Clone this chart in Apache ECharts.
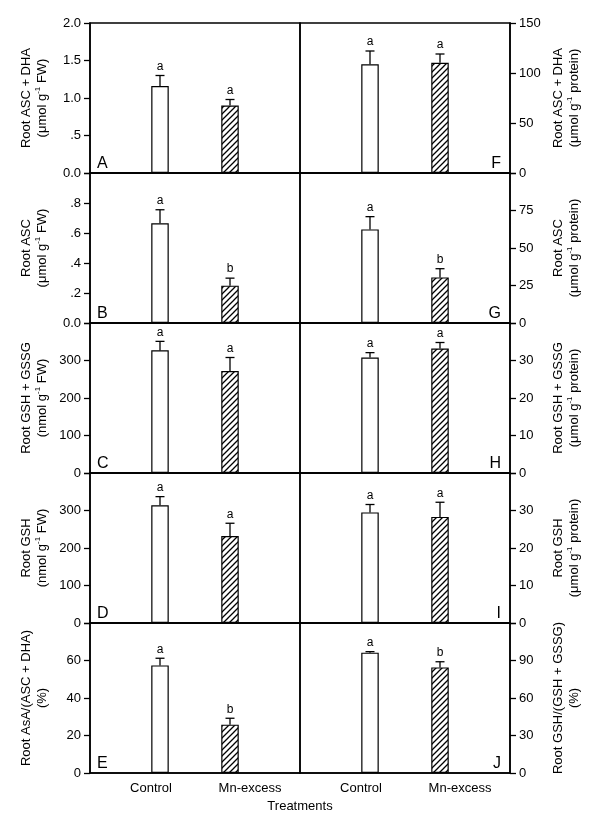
<!DOCTYPE html>
<html>
<head>
<meta charset="utf-8">
<script src="https://cdn.jsdelivr.net/npm/echarts@6/dist/echarts.min.js"></script>
<style>html,body{margin:0;padding:0;background:#fff;}#chart{width:600px;height:834px;}</style>
</head>
<body>
<div id="chart"></div>
<script>
// ---------------- data ----------------
const categories = ['Control', 'Mn-excess'];
const panelIds = ['A', 'B', 'C', 'D', 'E', 'F', 'G', 'H', 'I', 'J'];
const controlMean = [1.16, 0.665, 327, 314, 57.4, 108.7, 62.4, 30.8, 29.5, 96.3];
const controlErr  = [0.14, 0.09, 24, 23, 3.8, 13.3, 8.5, 1.3, 2.1, 0.8];
const mnMean      = [0.90, 0.249, 272, 232, 25.8, 110.3, 30.4, 33.2, 28.3, 84.5];
const mnErr       = [0.08, 0.05, 36, 34, 3.4, 8.7, 5.8, 1.6, 3.9, 4.5];
const controlSig  = ['a', 'a', 'a', 'a', 'a', 'a', 'a', 'a', 'a', 'a'];
const mnSig       = ['a', 'b', 'a', 'a', 'b', 'a', 'b', 'a', 'a', 'b'];
const yMax  = [2, 1, 400, 400, 80, 150, 100, 40, 40, 120];
const yStep = [0.5, 0.2, 100, 100, 20, 50, 25, 10, 10, 30];
const yTicksA = ['0.0', '.5', '1.0', '1.5', '2.0'];
const yTicksB = ['0.0', '.2', '.4', '.6', '.8', ''];
const yTicksC = ['0', '100', '200', '300', ''];
const yTicksD = ['0', '100', '200', '300', ''];
const yTicksE = ['0', '20', '40', '60', ''];
const yTicksF = ['0', '50', '100', '150'];
const yTicksG = ['0', '25', '50', '75', ''];
const yTicksH = ['0', '10', '20', '30', ''];
const yTicksI = ['0', '10', '20', '30', ''];
const yTicksJ = ['0', '30', '60', '90', ''];
const yTickLabels = [yTicksA, yTicksB, yTicksC, yTicksD, yTicksE, yTicksF, yTicksG, yTicksH, yTicksI, yTicksJ];
const yTitleLine1 = ['Root ASC + DHA', 'Root ASC', 'Root GSH + GSSG', 'Root GSH', 'Root AsA/(ASC + DHA)',
                     'Root ASC + DHA', 'Root ASC', 'Root GSH + GSSG', 'Root GSH', 'Root GSH/(GSH + GSSG)'];
const yTitleLine2 = [['(\u03bcmol g', '-1', ' FW)'], ['(\u03bcmol g', '-1', ' FW)'], ['(nmol g', '-1', ' FW)'],
                     ['(nmol g', '-1', ' FW)'], ['(%)', '', ''],
                     ['(\u03bcmol g', '-1', ' protein)'], ['(\u03bcmol g', '-1', ' protein)'], ['(\u03bcmol g', '-1', ' protein)'],
                     ['(\u03bcmol g', '-1', ' protein)'], ['(%)', '', '']];
const xAxisTitle = 'Treatments';

// ---------------- layout ----------------
const FONT = '"Liberation Sans", Arial, sans-serif';
const colLeft = [90, 300];
const colW = 210;
const top0 = 23;
const panelH = 150;

function makeHatch() {
  const s = 6;
  const c = document.createElement('canvas');
  c.width = s; c.height = s;
  const g = c.getContext('2d');
  g.fillStyle = '#fff'; g.fillRect(0, 0, s, s);
  g.strokeStyle = '#000'; g.lineWidth = 1.3;
  g.beginPath();
  g.moveTo(-1, s + 1); g.lineTo(s + 1, -1);
  g.moveTo(-s / 2 - 1, s / 2 + 1); g.lineTo(s / 2 + 1, -s / 2 - 1);
  g.moveTo(s / 2 - 1, s * 1.5 + 1); g.lineTo(s * 1.5 + 1, s / 2 - 1);
  g.stroke();
  return c;
}
const hatch = { image: makeHatch(), repeat: 'repeat' };

const xData = [''].concat(categories, ['']);
const grids = [], xAxes = [], yAxes = [], series = [], graphics = [];

for (let p = 0; p < 10; p++) {
  const col = p < 5 ? 0 : 1;
  const row = p % 5;
  const gTop = top0 + row * panelH;
  grids.push({ left: colLeft[col], width: colW, top: gTop, height: panelH,
    show: true, borderColor: '#000', borderWidth: 1.5, backgroundColor: 'transparent' });
  xAxes.push({
    type: 'category', gridIndex: p, data: xData, boundaryGap: false,
    axisLine: { show: true, lineStyle: { color: '#000', width: 1.5 } },
    axisTick: { show: false },
    axisLabel: {
      show: row === 4, interval: 0, color: '#000', fontSize: 13, fontFamily: FONT, margin: 9,
      formatter: v => v === categories[0] ? '{c|' + v + '}' : (v === categories[1] ? '{m|' + v + '}' : ''),
      rich: {
        c: { fontSize: 13, fontFamily: FONT, color: '#000', padding: [0, 18, 0, 0] },
        m: { fontSize: 13, fontFamily: FONT, color: '#000', padding: [0, 0, 0, 40] }
      }
    },
    splitLine: { show: false }
  });
  const l2 = yTitleLine2[p];
  const name = '{n|' + yTitleLine1[p] + '}\n{n|' + l2[0] + '}' + (l2[1] ? '{s|' + l2[1] + '}{n|' + l2[2] + '}' : '');
  const labels = yTickLabels[p];
  yAxes.push({
    type: 'value', gridIndex: p, position: col === 0 ? 'left' : 'right',
    min: 0, max: yMax[p], interval: yStep[p],
    axisLine: { show: true, lineStyle: { color: '#000', width: 1.5 } },
    axisTick: { show: true, inside: false, length: 6, lineStyle: { color: '#000', width: 1.3 } },
    axisLabel: {
      color: '#000', fontSize: 13, fontFamily: FONT, margin: 9,
      showMinLabel: true, showMaxLabel: true, hideOverlap: false,
      formatter: v => { const k = Math.round(v / yStep[p]); return labels[k] !== undefined ? labels[k] : ''; }
    },
    splitLine: { show: false },
    name: name, nameLocation: 'middle', nameRotate: 90, nameGap: 40,
    nameTextStyle: {
      rich: {
        n: { fontSize: 13, fontFamily: FONT, color: '#000', lineHeight: 16 },
        s: { fontSize: 8, fontFamily: FONT, color: '#000', lineHeight: 8, verticalAlign: 'top' }
      }
    }
  });
  series.push({
    type: 'bar', xAxisIndex: p, yAxisIndex: p, barWidth: 17.5, silent: true,
    itemStyle: { borderColor: '#000', borderWidth: 1.2 },
    data: ['-', { value: controlMean[p], itemStyle: { color: '#fff' } },
           { value: mnMean[p], itemStyle: { color: hatch } }, '-']
  });
  const errs = [controlErr[p], mnErr[p]];
  const sigs = [controlSig[p], mnSig[p]];
  series.push({
    type: 'custom', xAxisIndex: p, yAxisIndex: p, silent: true, clip: false, z: 5,
    data: [[1, controlMean[p]], [2, mnMean[p]]],
    encode: { x: 0, y: 1 },
    renderItem: (params, api) => {
      const i = params.dataIndex;
      const x = api.value(0), v = api.value(1);
      const b = api.coord([x, v]);
      const t = api.coord([x, v + errs[i]]);
      const st = { stroke: '#000', lineWidth: 1.3 };
      return { type: 'group', children: [
        { type: 'line', shape: { x1: b[0], y1: b[1], x2: t[0], y2: t[1] }, style: st },
        { type: 'line', shape: { x1: t[0] - 4.5, y1: t[1], x2: t[0] + 4.5, y2: t[1] }, style: st },
        { type: 'text', x: t[0], y: t[1] - 3, style: { text: sigs[i], fill: '#000', fontSize: 12, fontFamily: FONT,
          align: 'center', verticalAlign: 'bottom' } }
      ] };
    }
  });
  graphics.push({
    type: 'text',
    x: col === 0 ? colLeft[0] + 7 : colLeft[1] + colW - 9,
    y: gTop + panelH - 1,
    style: { text: panelIds[p], fill: '#000', fontSize: 16, fontFamily: FONT,
      textAlign: col === 0 ? 'left' : 'right', textVerticalAlign: 'bottom' }
  });
}
graphics.push({ type: 'text', x: 300, y: 806,
  style: { text: xAxisTitle, fill: '#000', fontSize: 13, fontFamily: FONT, textAlign: 'center', textVerticalAlign: 'middle' } });

const chart = echarts.init(document.getElementById('chart'), null, { renderer: 'canvas' });
chart.setOption({
  animation: false,
  backgroundColor: '#fff',
  grid: grids, xAxis: xAxes, yAxis: yAxes, series: series, graphic: graphics
});
</script>
</body>
</html>
